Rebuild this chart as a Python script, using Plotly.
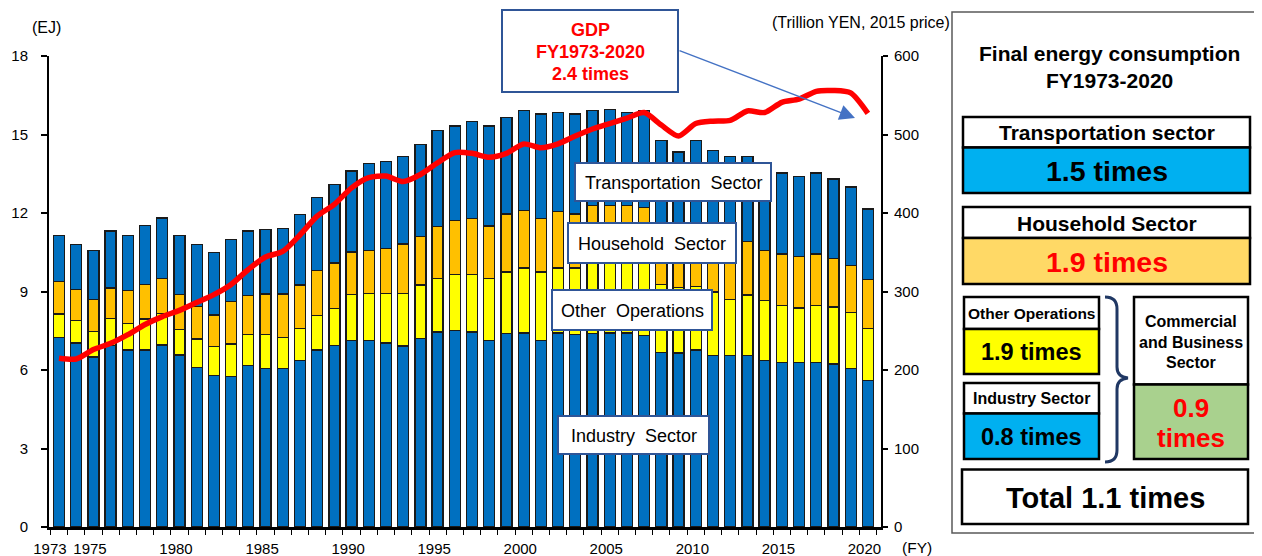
import plotly.graph_objects as go

# ---------------- data ----------------
years = list(range(1973, 2021))

industry = [7.25, 7.03, 6.50, 6.93, 6.76, 6.76, 6.95, 6.57, 6.09, 5.79,
            5.76, 6.16, 6.07, 6.07, 6.35, 6.76, 6.94, 7.12, 7.14, 7.03,
            6.92, 7.21, 7.45, 7.51, 7.45, 7.12, 7.39, 7.41, 7.12, 7.41,
            7.37, 7.39, 7.41, 7.41, 7.31, 6.67, 6.65, 6.77, 6.55, 6.56,
            6.56, 6.35, 6.28, 6.28, 6.28, 6.23, 6.06, 5.59]

other_operations = [0.89, 0.85, 0.98, 1.04, 1.03, 1.19, 1.20, 0.97, 1.09, 1.10,
                    1.23, 1.21, 1.30, 1.18, 1.23, 1.31, 1.40, 1.76, 1.79, 1.90,
                    2.01, 2.04, 2.04, 2.13, 2.19, 2.37, 2.35, 2.49, 2.62, 2.49,
                    2.53, 2.67, 2.71, 2.68, 2.76, 2.60, 2.50, 2.41, 2.43, 2.13,
                    2.31, 2.30, 2.19, 2.09, 2.18, 2.18, 2.14, 1.99]

household = [1.25, 1.21, 1.21, 1.16, 1.24, 1.33, 1.36, 1.35, 1.25, 1.21,
             1.63, 1.49, 1.53, 1.65, 1.67, 1.73, 1.75, 1.63, 1.64, 1.72,
             1.89, 1.85, 2.00, 2.08, 2.14, 2.01, 2.22, 2.20, 2.05, 2.17,
             2.06, 2.23, 2.17, 2.20, 2.15, 2.03, 1.85, 2.12, 2.12, 2.26,
             2.04, 1.93, 1.96, 1.97, 1.97, 1.84, 1.80, 1.89]

transportation = [1.75, 1.70, 1.88, 2.18, 2.11, 2.25, 2.30, 2.25, 2.36, 2.38,
                  2.37, 2.45, 2.46, 2.51, 2.68, 2.78, 2.99, 3.09, 3.31, 3.31,
                  3.33, 3.52, 3.65, 3.61, 3.71, 3.83, 3.69, 3.83, 3.99, 3.77,
                  3.82, 3.62, 3.67, 3.55, 3.69, 3.47, 3.33, 3.47, 3.29, 3.21,
                  3.25, 3.17, 3.10, 3.06, 3.10, 3.05, 2.99, 2.68]

gdp = [215, 214, 226, 234, 245, 258, 268, 276, 286, 296,
       309, 328, 344, 351, 372, 396, 411, 432, 445, 447,
       440, 449, 464, 477, 476, 471, 476, 488, 483, 488,
       498, 507, 514, 521, 528, 512, 498, 514, 517, 518,
       530, 528, 541, 545, 555, 556, 553, 527]

left_ticks = [0, 3, 6, 9, 12, 15, 18]
right_ticks = [0, 100, 200, 300, 400, 500, 600]
x_label_years = [1973, 1975, 1980, 1985, 1990, 1995, 2000, 2005, 2010, 2015, 2020]

# ---------------- layout helpers ----------------
# the page body keeps an 8px margin, so the figure is sized to fit the window after it
WIN_W, WIN_H, OFF = 1262, 556, 8
W, H = WIN_W - OFF, WIN_H - OFF
PL, PR, PT, PB = 49, 881, 56, 527          # plot area in window pixels
ML, MR, MT, MB = PL - OFF, WIN_W - PR, PT - OFF, WIN_H - PB
PW, PH = PR - PL, PB - PT
FONT = "Arial, 'Liberation Sans', sans-serif"

def X(px):
    return (px - PL) / PW

def Y(py):
    return (PB - py) / PH

BLUE = "#0070C0"
ORANGE = "#FFC000"
YELLOW = "#FFFF00"
EDGE = "#1a1a1a"

fig = go.Figure()
bar_w = 0.64
for name, vals, col in [("Industry Sector", industry, BLUE),
                        ("Other Operations", other_operations, YELLOW),
                        ("Household Sector", household, ORANGE),
                        ("Transportation Sector", transportation, BLUE)]:
    fig.add_trace(go.Bar(x=years, y=vals, name=name, width=bar_w,
                         marker=dict(color=col, line=dict(color=EDGE, width=1.3)),
                         yaxis="y"))

fig.add_trace(go.Scatter(x=years, y=gdp, mode="lines", name="GDP",
                         line=dict(color="#FF0000", width=5.5, shape="spline", smoothing=0.7),
                         yaxis="y2"))

x0r = 1973 - (59 - PL) / 17.21
x1r = x0r + PW / 17.21
tickpos = [1972.47 if y == 1973 else y - 0.2 for y in x_label_years]

fig.update_layout(
    width=W, height=H,
    margin=dict(l=ML, r=MR, t=MT, b=MB, pad=0, autoexpand=False),
    paper_bgcolor="white", plot_bgcolor="white",
    barmode="stack", bargap=0.36, showlegend=False,
    font=dict(family=FONT, size=15, color="#000000"),
    xaxis=dict(range=[x0r, x1r], tickmode="array", tickvals=tickpos,
               ticktext=[str(y) for y in x_label_years], ticks="",
               showline=True, linecolor="black", linewidth=2.5,
               showgrid=False, zeroline=False, ticklabelstandoff=6, automargin=False,
               tickfont=dict(size=15, family=FONT),
               minor=dict(tickmode="linear", tick0=1972.5, dtick=1, ticks="outside",
                          ticklen=5, tickwidth=1.3, tickcolor="black", showgrid=False)),
    yaxis=dict(range=[0, 18], tickmode="array", tickvals=left_ticks,
               ticks="outside", ticklen=6, tickwidth=1.5, tickcolor="black",
               showline=True, linecolor="black", linewidth=2, automargin=False,
               showgrid=False, zeroline=False, ticklabelstandoff=10,
               tickfont=dict(size=15, family=FONT)),
    yaxis2=dict(range=[0, 600], overlaying="y", side="right", anchor="x",
                tickmode="array", tickvals=right_ticks, automargin=False,
                ticks="outside", ticklen=5, tickwidth=1.5, tickcolor="black",
                showline=True, linecolor="black", linewidth=2,
                showgrid=False, zeroline=False, ticklabelstandoff=3,
                tickfont=dict(size=15, family=FONT)),
)

shapes = []
annotations = []

def rect(x0, y0, x1, y1, fill="white", line="black", lw=2.5):
    shapes.append(dict(type="rect", xref="paper", yref="paper",
                       x0=X(x0), x1=X(x1), y0=Y(y1), y1=Y(y0),
                       fillcolor=fill, line=dict(color=line, width=lw), layer="above"))

def text(px, py, t, size=15, color="black", bold=False, xanchor="center"):
    if bold:
        t = "<b>" + t + "</b>"
    annotations.append(dict(x=X(px), y=Y(py), xref="paper", yref="paper", text=t,
                            showarrow=False, xanchor=xanchor, yanchor="middle",
                            font=dict(size=size, color=color, family=FONT)))

# axis titles
text(46, 27, "(EJ)", 16)
text(861, 22, "(Trillion YEN, 2015 price)", 16)
text(917, 547, "(FY)", 15.5)

# GDP box and arrow
BOXC = "#2F5597"
rect(502, 10, 678, 92, line=BOXC, lw=2)
text(590, 30, "GDP", 18, "#FF0000", True)
text(590, 52, "FY1973-2020", 18, "#FF0000", True)
text(590, 74, "2.4 times", 18, "#FF0000", True)
annotations.append(dict(x=X(855), y=Y(118), xref="paper", yref="paper", text="",
                        showarrow=True, ax=678 - 855, ay=50 - 118,
                        arrowhead=2, arrowsize=2.2, arrowwidth=1.4, arrowcolor="#4472C4"))

# sector label boxes
for (x0, y0, x1, y1, t) in [(575, 163, 771, 201, "Transportation  Sector"),
                            (568, 223, 736, 263, "Household  Sector"),
                            (552, 290, 712, 330, "Other  Operations"),
                            (558, 416, 709, 454, "Industry  Sector")]:
    rect(x0, y0, x1, y1, line=BOXC, lw=2)
    text((x0 + x1) / 2, (y0 + y1) / 2 + 1, t, 18)

# right panel
rect(952, 12, 1258, 533, line="#595959", lw=1.5)
text(1109, 53, "Final energy consumption", 21, bold=True)
text(1109, 80, "FY1973-2020", 21, bold=True)

rect(963, 117, 1250, 147.5)
rect(963, 147.5, 1250, 193, fill="#00B0F0")
text(1106.5, 132.5, "Transportation sector", 21, bold=True)
text(1106.5, 171, "1.5 times", 28.5, bold=True)

rect(963, 207, 1250, 238)
rect(963, 238, 1250, 284, fill="#FFD966")
text(1106.5, 223, "Household Sector", 21, bold=True)
text(1106.5, 262, "1.9 times", 28.5, "#FF0000", True)

rect(964, 297, 1099, 329)
rect(964, 329, 1099, 374, fill="#FFFF00")
text(1031.5, 313, "Other Operations", 15.5, bold=True)
text(1031.5, 352, "1.9 times", 23.5, bold=True)

rect(964, 383, 1099, 413.5)
rect(964, 413.5, 1099, 459, fill="#00B0F0")
text(1031.5, 398.5, "Industry Sector", 16, bold=True)
text(1031.5, 437, "0.8 times", 23.5, bold=True)

rect(1134, 297, 1248, 384.5)
rect(1134, 384.5, 1248, 459, fill="#A9D18E")
text(1191, 321, "Commercial", 16, bold=True)
text(1191, 342, "and Business", 16, bold=True)
text(1191, 362.5, "Sector", 16, bold=True)
text(1191, 408, "0.9", 26, "#FF0000", True)
text(1191, 438, "times", 26, "#FF0000", True)

rect(962, 469.5, 1248, 524)
text(1105, 498, "Total 1.1 times", 29, bold=True)

# brace
pts = [("M", [(1105, 297)]), ("Q", [(1117, 297), (1117, 309)]), ("L", [(1117, 367)]),
       ("Q", [(1117, 377), (1128, 378)]), ("Q", [(1117, 379), (1117, 389)]),
       ("L", [(1117, 450)]), ("Q", [(1117, 462), (1105, 462)])]
path = " ".join(cmd + " " + " ".join(f"{X(a):.5f},{Y(b):.5f}" for a, b in p) for cmd, p in pts)
shapes.append(dict(type="path", xref="paper", yref="paper", path=path,
                   line=dict(color="#203864", width=3), layer="above"))

fig.update_layout(shapes=shapes, annotations=annotations)
fig.write_html("out.html")
